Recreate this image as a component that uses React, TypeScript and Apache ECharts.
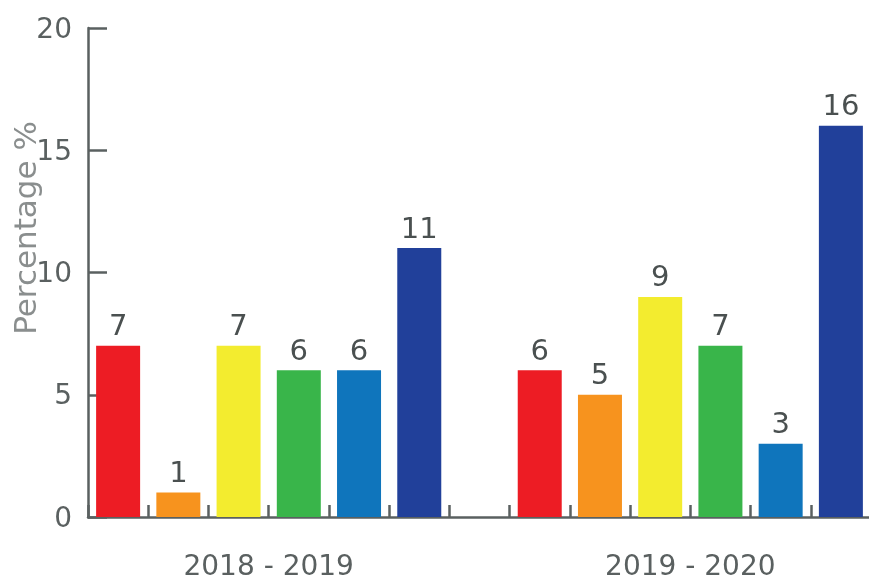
import React, { useEffect, useRef } from "react";
import * as echarts from "echarts";

const groups = ["2018 - 2019", "2019 - 2020"];
const colors = ["#ED1C24", "#F7931E", "#F3EC2F", "#39B54A", "#0F75BC", "#21409A"];
const values2018 = [7, 1, 7, 6, 6, 11];
const values2019 = [6, 5, 9, 7, 3, 16];
const yTicks = [0, 5, 10, 15, 20];
const yName = "Percentage %";

const groupValues = [values2018, values2019];

export default function App() {
  const ref = useRef<HTMLDivElement>(null);
  useEffect(() => {
    if (!ref.current) return;
    const chart = echarts.init(ref.current, null, { renderer: "svg" });
    const perGroup = colors.length;
    const slots: any[] = [];
    const labelAt: Record<number, string> = {};
    groupValues.forEach((vals, g) => {
      if (g > 0) slots.push({ value: null });
      const start = slots.length;
      labelAt[start + perGroup / 2] = groups[g];
      vals.forEach((v, i) => slots.push({ value: v, itemStyle: { color: colors[i] } }));
    });
    const nSlots = slots.length;
    const axisColor = "#5A6060";
    const font = "DejaVu Sans";
    chart.setOption({
      animation: false,
      grid: { left: 88, top: 28, bottom: 65, right: -2, containLabel: false, outerBoundsMode: "none" },
      xAxis: [
        {
          type: "category",
          data: slots.map((_, i) => String(i)),
          boundaryGap: true,
          axisLine: { lineStyle: { color: axisColor, width: 2.5 } },
          axisTick: { show: true, interval: 0, inside: true, length: 12, lineStyle: { color: axisColor, width: 2.5 } },
          axisLabel: { show: false, interval: 0 },
        },
        {
          type: "value",
          min: 0,
          max: nSlots,
          interval: 1,
          position: "bottom",
          axisLine: { show: false },
          axisTick: { show: false },
          splitLine: { show: false },
          axisLabel: {
            margin: 34,
            fontFamily: font,
            fontSize: 28,
            color: axisColor,
            showMinLabel: true,
            showMaxLabel: true,
            formatter: (v: number) => labelAt[v] ?? "",
          },
        },
      ],
      yAxis: {
        type: "value",
        min: yTicks[0],
        max: yTicks[yTicks.length - 1],
        interval: yTicks[1] - yTicks[0],
        axisLine: { show: true, lineStyle: { color: axisColor, width: 2.5 } },
        axisTick: { show: true, inside: true, length: 19, lineStyle: { color: axisColor, width: 2.5 } },
        splitLine: { show: false },
        axisLabel: { margin: 16, fontFamily: font, fontSize: 28, color: axisColor },
      },
      graphic: [
        {
          type: "text",
          x: 25,
          y: 228,
          rotation: Math.PI / 2,
          style: {
            text: yName,
            fontFamily: font,
            fontSize: 31,
            fill: "#8A8E8E",
            align: "center",
            verticalAlign: "middle",
          },
        },
      ],
      series: [
        {
          type: "bar",
          xAxisIndex: 0,
          barWidth: 44,
          data: slots,
          label: {
            show: true,
            position: "top",
            distance: 6,
            fontFamily: font,
            fontSize: 29,
            color: "#4A5050",
          },
        },
      ],
    });
    return () => chart.dispose();
  }, []);
  return <div ref={ref} style={{ position: "fixed", left: 0, top: 0, width: 869, height: 582 }} />;
}
